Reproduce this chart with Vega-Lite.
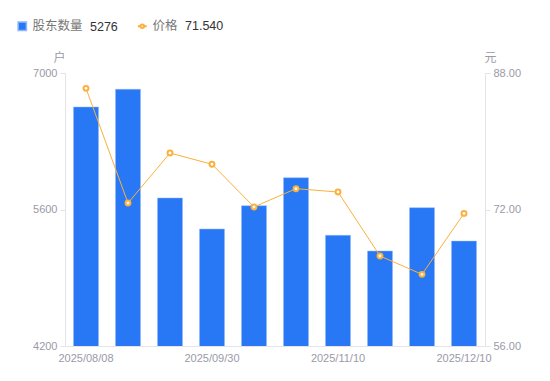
{
  "$schema": "https://vega.github.io/schema/vega-lite/v6.json",
  "width": 420,
  "height": 273,
  "autosize": {"type": "none"},
  "padding": {"left": 65, "top": 73, "right": 65, "bottom": 35},
  "background": "white",
  "config": {
    "view": {"stroke": null},
    "font": "Noto Sans CJK SC",
    "axis": {"labelFont": "Liberation Sans", "labelColor": "#9a9aa8", "labelFontSize": 11, "domainColor": "#e3e3e8", "tickColor": "#e3e3e8", "grid": false, "titleFont": "Noto Sans CJK SC", "titleColor": "#9a9aa8", "titleFontWeight": "normal", "titleFontSize": 12}
  },
  "data": {
    "values": [
      {"date": "2025/08/08", "holders": 6651, "price": 86.2},
      {"date": "2025/08/20", "holders": 6833, "price": 72.76},
      {"date": "2025/08/29", "holders": 5718, "price": 78.62},
      {"date": "2025/09/30", "holders": 5400, "price": 77.3},
      {"date": "2025/10/10", "holders": 5639, "price": 72.3},
      {"date": "2025/10/20", "holders": 5926, "price": 74.44},
      {"date": "2025/11/10", "holders": 5335, "price": 74.05},
      {"date": "2025/11/20", "holders": 5174, "price": 66.55},
      {"date": "2025/11/28", "holders": 5619, "price": 64.4},
      {"date": "2025/12/10", "holders": 5276, "price": 71.54}
    ]
  },
  "encoding": {
    "x": {
      "field": "date",
      "type": "ordinal",
      "sort": null,
      "scale": {"paddingInner": 0.4, "paddingOuter": 0.2},
      "axis": {
        "title": null,
        "labelAngle": 0,
        "ticks": false,
        "labelPadding": 6,
        "labelExpr": "indexof(['2025/08/08','2025/09/30','2025/11/10','2025/12/10'], datum.value) >= 0 ? datum.value : ''"
      }
    }
  },
  "layer": [
    {
      "mark": {"type": "bar", "width": 25, "stroke": "#8fb8fa", "strokeWidth": 0.5, "clip": true},
      "encoding": {
        "y": {
          "field": "holders",
          "type": "quantitative",
          "scale": {"domain": [4200, 7000], "nice": false, "zero": false},
          "axis": {
            "values": [4200, 5600, 7000],
            "format": "d",
            "title": "户",
            "titleAngle": 0,
            "titleX": -6,
            "titleY": -16,
            "titleBaseline": "middle",
            "titleAlign": "center",
            "labelPadding": 3,
            "tickSize": 5
          }
        },
        "fill": {
          "datum": "股东数量",
          "type": "nominal",
          "scale": {"domain": ["股东数量"], "range": ["#2878f5"]},
          "legend": {
            "orient": "none",
            "legendX": -49,
            "legendY": -53,
            "title": "5276",
            "titleOrient": "right",
            "titleColor": "#333",
            "titleFontWeight": "normal",
            "titleFontSize": 12.5,
            "titleFont": "Liberation Sans",
            "titlePadding": 7,
            "titleBaseline": "middle",
            "symbolType": "square",
            "symbolSize": 70,
            "labelFontSize": 12.5,
            "labelColor": "#777",
            "labelFont": "Noto Sans CJK SC"
          }
        }
      }
    },
    {
      "mark": {"type": "line", "color": "#fbb03b", "strokeWidth": 1, "point": {"filled": true, "fill": "white", "stroke": "#fbb03b", "strokeWidth": 2, "size": 24}},
      "encoding": {
        "y": {
          "field": "price",
          "type": "quantitative",
          "scale": {"domain": [56, 88], "nice": false, "zero": false},
          "axis": {
            "orient": "right",
            "values": [56, 72, 88],
            "format": ".2f",
            "title": "元",
            "titleAngle": 0,
            "titleX": 5,
            "titleY": -16,
            "titleBaseline": "middle",
            "titleAlign": "center",
            "labelPadding": 3,
            "tickSize": 5
          }
        },
        "stroke": {
          "datum": "价格",
          "type": "nominal",
          "scale": {"domain": ["价格"], "range": ["#fbb03b"]},
          "legend": {
            "orient": "none",
            "legendX": 71,
            "legendY": -53,
            "title": "71.540",
            "titleOrient": "right",
            "titleColor": "#333",
            "titleFontWeight": "normal",
            "titleFontSize": 12.5,
            "titleFont": "Liberation Sans",
            "titlePadding": 7,
            "titleBaseline": "middle",
            "symbolType": "M-1,0H-0.4M0.4,0H1M-0.4,0A0.4,0.4 0 1,0 0.4,0A0.4,0.4 0 1,0 -0.4,0Z",
            "symbolFillColor": "white",
            "symbolStrokeWidth": 2,
            "symbolSize": 80,
            "labelFontSize": 12.5,
            "labelColor": "#777",
            "labelFont": "Noto Sans CJK SC"
          }
        }
      }
    }
  ],
  "resolve": {"scale": {"y": "independent"}}
}
